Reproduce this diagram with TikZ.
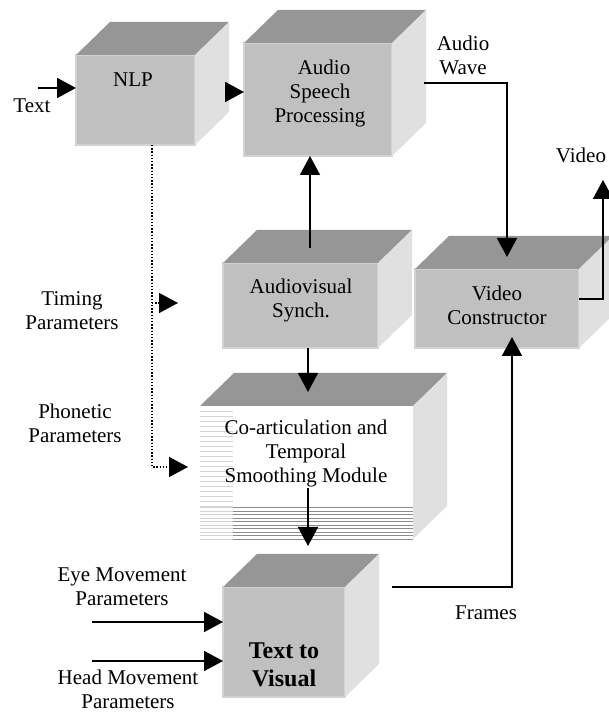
\documentclass[tikz,border=0pt]{standalone}
\usepackage{fontspec}
\setmainfont{Liberation Serif}
\usetikzlibrary{arrows.meta, calc}

\definecolor{facegray}{HTML}{C0C0C0}
\definecolor{edgegray}{HTML}{D2D2D2}
\definecolor{topgray}{HTML}{969696}
\definecolor{sidegray}{HTML}{E0E0E0}
\definecolor{stripelight}{HTML}{D4D4D4}
\definecolor{stripedark}{HTML}{8C8C8C}

% top and right faces of a block
\newcommand\cubesides[1]{%
  \fill[topgray] (#1.north west) -- ++(34,33) -- ($(#1.north east)+(34,33)$) -- (#1.north east) -- cycle;
  \fill[sidegray] (#1.north east) -- ++(34,33) -- ($(#1.south east)+(34,33)$) -- (#1.south east) -- cycle;}

\begin{document}
\begin{tikzpicture}[x=1pt,y=1pt,
  face/.style={rectangle,fill=facegray,draw=edgegray,line width=2pt,inner sep=0pt,outer sep=0pt},
  page/.style={rectangle,fill=white,inner sep=0pt,outer sep=0pt},
  lbl/.style={align=center,font=\fontsize{21}{24}\selectfont},
  arr/.style={-{Triangle[length=19pt,width=20pt]},line width=1.8pt},
  dotarr/.style={-{Triangle[length=19pt,width=20pt]},line width=1.4pt,dash pattern=on 1.4pt off 1.8pt},
  pageline/.style={draw=stripelight,line width=0.8pt},
  pagelinedark/.style={draw=stripedark,line width=0.8pt}
]
  \useasboundingbox (0,0) rectangle (608,712);

  % blocks
  \node[face,minimum width=119pt,minimum height=90pt] (nlp) at (135.5,612) {};
  \node[face,minimum width=148pt,minimum height=113pt] (asp) at (318,612.5) {};
  \node[face,minimum width=155pt,minimum height=85pt] (avs) at (300.5,406.5) {};
  \node[face,minimum width=164pt,minimum height=79pt] (vc) at (497,403.5) {};
  \node[page,minimum width=213pt,minimum height=133pt] (coart) at (306.5,239.5) {};
  \node[face,minimum width=122pt,minimum height=110pt] (ttv) at (284,70) {};
  \cubesides{nlp}\cubesides{asp}\cubesides{avs}\cubesides{vc}\cubesides{coart}\cubesides{ttv}

  % page stack look of the smoothing module
  \foreach \k in {1,...,20}
    \draw[pageline] ($(coart.north west)+(0,-5*\k)$) -- ++(33,0);
  \foreach \k in {0,...,9}{
    \draw[pageline] ($(coart.south west)+(0,3.5*\k)$) -- ++(33,0);
    \draw[pagelinedark] ($(coart.south west)+(33,3.5*\k)$) -- ++(180,0);}

  % texts
  \node[lbl] (nlptxt) at (133,632) {NLP};
  \node[lbl] (asptxt) at (320,618.5) {\hspace*{8pt}Audio\\Speech\\Processing};
  \node[lbl] (avstxt) at (301,412) {Audiovisual\\Synch.};
  \node[lbl] (vctxt) at (497,407) {Video\\Constructor};
  \node[lbl] (coarttxt) at (306,259) {Co-articulation and\\Temporal\\Smoothing Module};
  \node[lbl,font=\fontsize{24}{28}\selectfont\bfseries] (ttvtxt) at (284,47.5) {Text to\\Visual};

  \node[lbl] (textlbl) at (32,606) {Text};
  \node[lbl] (wavelbl) at (463,657) {Audio\\Wave};
  \node[lbl] (videolbl) at (581,557) {Video};
  \node[lbl] (timinglbl) at (72,401.5) {Timing\\Parameters};
  \node[lbl] (phonlbl) at (75,289) {Phonetic\\Parameters};
  \node[lbl] (eyelbl) at (122,125) {Eye Movement\\Parameters};
  \node[lbl] (headlbl) at (128,23) {Head Movement\\Parameters};
  \node[lbl] (frameslbl) at (486,99) {Frames};

  \coordinate (txtin) at (38,624);
  \coordinate (eyein) at (92,90);
  \coordinate (headin) at (92,51);
  \coordinate (vidout) at (603,532);
  \coordinate (timtip) at ($(avs.west)+(-45,2.5)$);
  \coordinate (photip) at ($(coart.west)+(-12,5.5)$);

  % connectors
  \draw[arr] (txtin) -- (txtin -| nlp.west);
  \draw[arr] ($(nlp.east)+(33,8)$) -- ($(nlp.east -| asp.west)+(0,8)$);
  \draw[arr] ($(asp.east)+(32,16.5)$) -| ($(vc.north)+(10,12)$);
  \draw[arr] ($(vc.east)+(0,9.5)$) -| (vidout);
  \draw[arr] ($(avs.north)+(9.5,15)$) -- ($(asp.south -| avs.north)+(9.5,0)$);
  \draw[arr] ($(avs.south)+(7.5,0)$) -- ($(coart.north)+(1.5,14)$);
  \draw[arr] ($(coart.south)+(1.5,51)$) -- ($(ttv.north)+(24,41)$);
  \draw[arr] ($(ttv.north east)+(47,0)$) -| ($(vc.south)+(15,11)$);
  \draw[arr] (eyein) -- (eyein -| ttv.west);
  \draw[arr] (headin) -- (headin -| ttv.west);
  \draw[dotarr] ($(nlp.south)+(16.5,0)$) |- (photip);
  \draw[dotarr] ($(timtip -| nlp.south)+(16.5,0)$) -- (timtip);
\end{tikzpicture}
\end{document}
